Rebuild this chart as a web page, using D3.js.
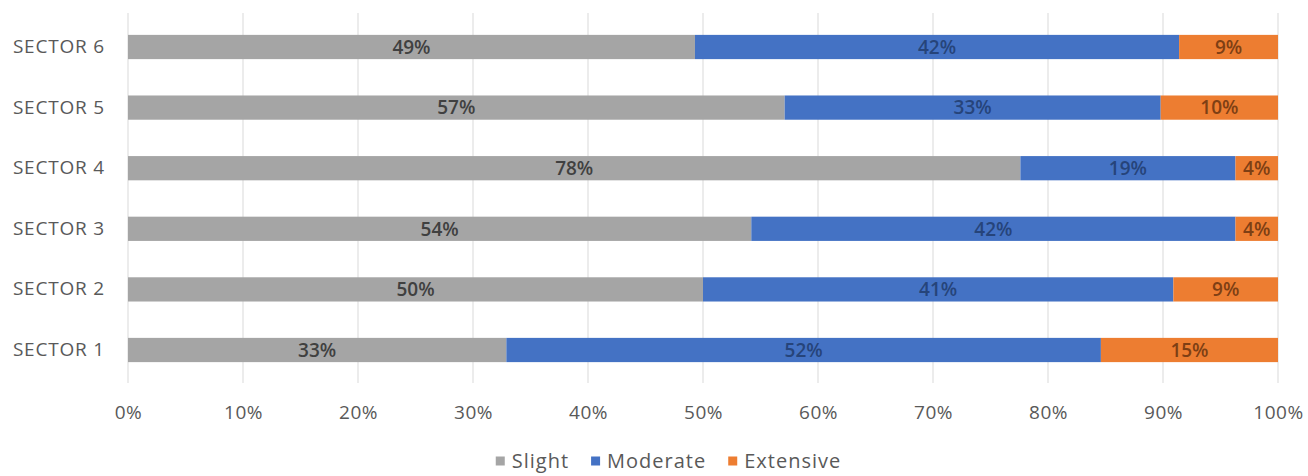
<!DOCTYPE html>
<html>
<head>
<meta charset="utf-8">
<script src="https://cdn.jsdelivr.net/npm/d3@7"></script>
<style>
  body { margin: 0; background: #ffffff; }
  text { font-family: "Open Sans", "Noto Sans", sans-serif; }
</style>
</head>
<body>
<script>
//100% stacked horizontal bar chart, damage state share per sector

//Chart data
var sectors = ["SECTOR 1", "SECTOR 2", "SECTOR 3", "SECTOR 4", "SECTOR 5", "SECTOR 6"];
var seriesNames = ["Slight", "Moderate", "Extensive"];
var slight = [32.9, 50.0, 54.2, 77.6, 57.1, 49.3];
var moderate = [51.7, 40.9, 42.1, 18.7, 32.7, 42.1];
var extensive = [15.4, 9.1, 3.7, 3.7, 10.2, 8.6];
var xTicks = [0, 10, 20, 30, 40, 50, 60, 70, 80, 90, 100];

//Layout
var W = 1308;
var H = 476;
var Left = 128;
var Right = 1278;
var GridTop = 13;
var GridBottom = 383;
var colors = ["#A5A5A5", "#4472C4", "#ED7D31"];
var labelColors = ["#404040", "#26447A", "#7E3F14"];

function main() {
  var rows = sectors.map(function(s, i) {
    return {sector: s, Slight: slight[i], Moderate: moderate[i], Extensive: extensive[i]};
  });

  var svg = d3.select("body").append("svg")
      .attr("width", W)
      .attr("height", H);

  var xScale = d3.scaleLinear().domain([0, 100]).range([Left, Right]);
  //Sector 6 on top, sector 1 at the bottom
  var yScale = d3.scaleBand()
      .domain(sectors.slice().reverse())
      .range([16.7, 380.3])
      .paddingInner(0.6)
      .paddingOuter(0.3);

  drawGrid(svg, xScale);

  var stack = d3.stack().keys(seriesNames);
  var layers = stack(rows);

  var groups = svg.selectAll("g.layer")
      .data(layers)
      .enter()
      .append("g")
      .attr("class", "layer")
      .attr("fill", function(d, i) { return colors[i]; });

  groups.selectAll("rect")
      .data(function(d) { return d; })
      .enter()
      .append("rect")
      .attr("x", function(d) { return xScale(d[0]); })
      .attr("y", function(d) { return yScale(d.data.sector); })
      .attr("width", function(d) { return xScale(d[1]) - xScale(d[0]); })
      .attr("height", yScale.bandwidth());

  //Data labels in the middle of every segment
  groups.selectAll("text")
      .data(function(d, i) { return d.map(function(p) { p.series = i; return p; }); })
      .enter()
      .append("text")
      .attr("x", function(d) { return (xScale(d[0]) + xScale(d[1])) / 2; })
      .attr("y", function(d) { return yScale(d.data.sector) + yScale.bandwidth() / 2; })
      .attr("dy", "0.36em")
      .attr("text-anchor", "middle")
      .attr("font-size", 19)
      .attr("font-weight", 600)
      .attr("fill", function(d) { return labelColors[d.series]; })
      .text(function(d) { return Math.round(d[1] - d[0]) + "%"; });

  drawAxes(svg, xScale, yScale);
  drawLegend(svg);
}

function drawGrid(svg, xScale) {
  //Vertical gridlines at every tick
  svg.append("g")
      .selectAll("line")
      .data(xTicks)
      .enter()
      .append("line")
      .attr("x1", function(d) { return xScale(d); })
      .attr("x2", function(d) { return xScale(d); })
      .attr("y1", GridTop)
      .attr("y2", GridBottom)
      .attr("stroke", "#D9D9D9")
      .attr("stroke-width", 1);
}

function drawAxes(svg, xScale, yScale) {
  var xAxis = d3.axisBottom(xScale)
      .tickValues(xTicks)
      .tickSize(0)
      .tickPadding(0)
      .tickFormat(function(d) { return d + "%"; });
  var gx = svg.append("g")
      .attr("transform", "translate(0," + 412 + ")")
      .call(xAxis);
  gx.select(".domain").remove();
  gx.selectAll("text")
      .attr("dy", "0.36em")
      .attr("font-size", 19)
      .attr("letter-spacing", 0.5)
      .attr("fill", "#595959");

  var yAxis = d3.axisLeft(yScale).tickSize(0).tickPadding(0);
  var gy = svg.append("g")
      .attr("transform", "translate(105,0)")
      .call(yAxis);
  gy.select(".domain").remove();
  gy.selectAll("text")
      .attr("font-size", 19)
      .attr("letter-spacing", 0.8)
      .attr("fill", "#595959");
}

function drawLegend(svg) {
  var legend = svg.append("g");
  var x = 0;
  seriesNames.forEach(function(name, i) {
    var item = legend.append("g").attr("transform", "translate(" + x + ",0)");
    item.append("rect")
        .attr("x", 0)
        .attr("y", -4.5)
        .attr("width", 9)
        .attr("height", 9)
        .attr("fill", colors[i]);
    var t = item.append("text")
        .attr("x", 16)
        .attr("dy", "0.36em")
        .attr("font-size", 20)
        .attr("letter-spacing", 1)
        .attr("fill", "#595959")
        .text(name);
    x += 16 + t.node().getComputedTextLength() + 22;
  });
  var total = x - 22;
  legend.attr("transform", "translate(" + (668.5 - total / 2) + ",461)");
}

main();
</script>
</body>
</html>
